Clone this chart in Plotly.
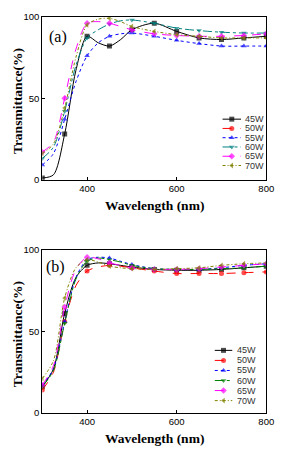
import plotly.graph_objects as go

wavelength = [300, 325, 350, 375, 400, 425, 450, 475, 500, 550, 600, 650, 700, 750, 800]
series_names = ["45W", "50W", "55W", "60W", "65W", "70W"]

# panel (a)
a_45W = [1, 3, 28, 67, 88, 84, 82, 86, 92, 96, 91, 87, 86, 87, 88]
a_50W = []  # not visible in panel (a)
a_55W = [9, 16, 37, 60, 76, 84, 88, 89.5, 90, 88, 85.5, 83.5, 82, 82, 82]
a_60W = [13, 20, 42, 70, 87, 92, 95.5, 97.5, 98, 96, 93, 91.5, 90.5, 90, 90]
a_65W = [17, 23, 50, 80, 96, 97, 96, 94, 92, 89.5, 88.5, 88, 88, 88.5, 89.5]
a_70W = [16, 22, 44, 75, 95, 98.5, 99, 97, 94, 91, 89, 88, 87, 87, 87]

# panel (b)
b_45W = [16, 27, 61, 83, 90.5, 92, 91.5, 90.5, 89.5, 88, 87.5, 87.5, 88, 89, 90]
b_50W = [14, 25, 56, 78, 87, 89.5, 90.5, 90, 89, 87, 85.5, 85.5, 85.5, 86, 86.5]
b_55W = [17, 27, 56, 83, 94, 95.5, 95, 93, 91, 88.5, 88, 88, 89, 90.5, 91.5]
b_60W = [16, 26, 55, 82, 93, 95, 94, 92.5, 90.5, 88.5, 88, 88, 88.5, 89, 90]
b_65W = [17, 29, 65, 88, 95.5, 94.5, 92, 90.5, 89, 88, 88, 88.5, 89.5, 90.5, 91.5]
b_70W = [21, 32, 70.5, 89, 94, 92.5, 90, 89, 88.5, 88, 88.5, 89, 90.5, 91.5, 92]

x_ticks = [400, 600, 800]
y_ticks = [0, 50, 100]
x_title = "Wavelength (nm)"
y_title = "Transmittance(%)"

panel_a = [a_45W, a_50W, a_55W, a_60W, a_65W, a_70W]
panel_b = [b_45W, b_50W, b_55W, b_60W, b_65W, b_70W]

colors_a = ["#000000", "#FF0000", "#0000FF", "#008080", "#FF00FF", "#808000"]
colors_b = ["#000000", "#FF0000", "#0000FF", "#008000", "#FF00FF", "#808000"]
dashes = ["solid", "dash", "dot", "dashdot", "dash", "3px,2px,1px,2px"]
symbols = ["square", "circle", "triangle-up", "triangle-down", "diamond", "triangle-left"]

W, H = 284, 450
fig = go.Figure()

MS = 5
msizes = [MS if w % 50 == 0 else 0 for w in wavelength]

def add_panel(data, colors, xa, ya):
    for name, vals, c, d, s in zip(series_names, data, colors, dashes, symbols):
        if not vals:
            continue
        fig.add_trace(go.Scatter(
            x=wavelength, y=vals, mode="lines+markers", name=name,
            line=dict(color=c, width=1, dash=d, shape="spline", smoothing=0.8),
            marker=dict(color=c, symbol=s, size=msizes, line=dict(width=0)),
            xaxis=xa, yaxis=ya, showlegend=False, hoverinfo="skip"))

add_panel(panel_a, colors_a, "x", "y")
add_panel(panel_b, colors_b, "x2", "y2")

# pixel-space overlay for legends
def add_legend(colors, x0, x1, y0, step, tx):
    for i, (name, c, d, s) in enumerate(zip(series_names, colors, dashes, symbols)):
        yy = y0 + i * step
        fig.add_trace(go.Scatter(
            x=[x0, (x0 + x1) / 2, x1], y=[yy, yy, yy], mode="lines+markers",
            line=dict(color=c, width=1, dash=d),
            marker=dict(color=c, symbol=s, size=[0, MS, 0], line=dict(width=0)),
            xaxis="x3", yaxis="y3", showlegend=False, hoverinfo="skip"))
        fig.add_annotation(x=tx, y=yy, xref="x3", yref="y3", text=name,
                           showarrow=False, xanchor="left", yanchor="middle",
                           font=dict(family="Liberation Sans, Arial", size=9, color="#333333"))

add_legend(colors_a, 229, 248, 116, 9.5, 250)
add_legend(colors_b, 221, 239, 353, 10.3, 242)

xl, xr = 43.5 / W, 274 / W
tick_font = dict(family="Liberation Sans, Arial", size=9.5, color="black")
title_font = dict(family="Liberation Serif, Times New Roman", size=13.5, color="black")

axis_common = dict(showline=True, linecolor="black", linewidth=1, mirror=True,
                   ticks="inside", ticklen=3, tickcolor="black", showgrid=False,
                   zeroline=False, tickfont=tick_font, tickprefix="<b>", ticksuffix="</b>")

fig.update_layout(
    width=W, height=H, margin=dict(l=0, r=0, t=0, b=0),
    paper_bgcolor="white", plot_bgcolor="rgba(0,0,0,0)",
    xaxis=dict(domain=[xl, xr], range=[300, 800], tickvals=x_ticks, anchor="y", **axis_common),
    yaxis=dict(domain=[1 - 178 / H, 1 - 11 / H], range=[0, 100], tickvals=y_ticks, anchor="x",
               **axis_common),
    xaxis2=dict(domain=[xl, xr], range=[300, 800], tickvals=x_ticks, anchor="y2", **axis_common),
    yaxis2=dict(domain=[1 - 417 / H, 1 - 250 / H], range=[0, 100], tickvals=y_ticks, anchor="x2",
                **axis_common),
    xaxis3=dict(domain=[0, 1], range=[0, W], visible=False, anchor="y3", fixedrange=True),
    yaxis3=dict(domain=[0, 1], range=[H, 0], visible=False, anchor="x3", fixedrange=True),
    showlegend=False,
)

# axis titles
for yy in (204, 443):
    fig.add_annotation(x=159, y=yy, xref="x3", yref="y3", text="<b>" + x_title + "</b>",
                       showarrow=False, font=title_font)
for yy in (97, 336):
    fig.add_annotation(x=18, y=yy, xref="x3", yref="y3", text="<b>" + y_title + "</b>",
                       showarrow=False, textangle=-90, font=title_font)

fig.add_annotation(x=60, y=32, xref="x3", yref="y3", text="(a)", showarrow=False,
                   font=dict(family="Liberation Serif, Times New Roman", size=16, color="black"))
fig.add_annotation(x=57, y=268, xref="x3", yref="y3", text="(b)", showarrow=False,
                   font=dict(family="Liberation Serif, Times New Roman", size=16, color="black"))

fig.write_html("out.html")
